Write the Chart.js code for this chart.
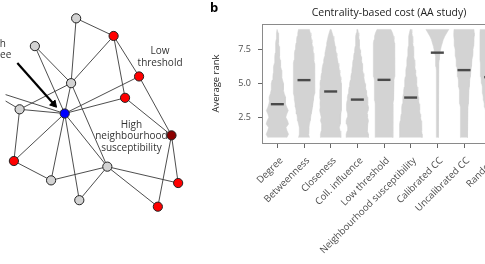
<!DOCTYPE html>
<html><head><meta charset="utf-8">
<script src="https://cdn.jsdelivr.net/npm/chart.js@4.4.1/dist/chart.umd.min.js"></script>
<style>
html,body{margin:0;padding:0;width:485px;height:264px;overflow:hidden;background:#fff;}
#net{position:absolute;left:0;top:0;}
#vio{position:absolute;left:205px;top:0;}
</style></head><body>
<canvas id="net" width="240" height="264"></canvas>
<canvas id="vio" width="310" height="264"></canvas>
<script>
// ---------- Panel b: violin data ----------
const categories = ['Degree','Betweenness','Closeness','Coll. influence','Low threshold','Neighbourhood susceptibility','Calibrated CC','Uncalibrated CC','Random'];
const medianRank = [3.47, 5.25, 4.41, 3.81, 5.27, 3.96, 7.28, 5.99, 5.47];
const rankLevels = [1,1.25,1.5,1.75,2,2.25,2.5,2.75,3,3.25,3.5,3.75,4,4.25,4.5,4.75,5,5.25,5.5,5.75,6,6.25,6.5,6.75,7,7.25,7.5,7.75,8,8.25,8.5,8.75,9];
const widthDegree       = [19,22.5,19.5,17.5,22.5,20.5,17,19,22,19,17,15.5,16.5,14,12.5,12,12.5,10.5,9,8.5,8.5,7,6,5.5,5,4.5,4,3.5,3,2.5,2,1.5,0.5];
const widthBetweenness  = [11,9.5,9,10,11,12.5,13.5,14.5,16,17,18,19,19.5,21,20.5,21,21.5,21.5,22,21,22,21.5,21,20,19.5,19,18,17,16,15,14,12.5,11];
const widthCloseness    = [20,20.5,19,17.5,19,20.5,19,20.5,22,21,21.5,21,22,21.5,22,21,21.5,20.5,19.5,18.5,17.5,16.5,15,14,12.5,11.5,10,9,8,6.5,5,3,1];
const widthCollInfl     = [22,22.5,20.5,19.5,21,22.5,20.5,19.5,21.5,22.5,21,20.5,20,18.5,17.5,16.5,15.5,14,13,12,11,10,9.5,8.5,7.5,6.5,5.5,4.5,4,3.5,3,2,1];
const widthLowThreshold = [18,18,18,17.5,17.5,17.5,17.5,17.5,18,18,18,18.5,18.5,19,19,19.5,20,20,20.5,20.5,21,21,21.5,21.5,22,22,22,21.5,21,20,19,17,14];
const widthNeighSusc    = [23,23,22.5,22,21.5,21,20,19,18.5,17.5,17,16,15.5,14.5,14,13,12.5,11.5,11,10,9.5,8.5,8,7.5,6.5,6,5.5,5,4.5,4,3.5,2.5,1];
const widthCalibrated   = [2,2,2,2,2,2,2,2,2,2,2,2,2,2,2,2,2,2.1,2.2,2.3,2.5,2.7,3,3.5,4.2,5.2,6.5,8,10,12,15,19,23];
const widthUncalibrated = [6.5,6.5,6.5,6.5,7,7,7.5,7.5,8,8,8.5,8.5,9,9.5,10,10.5,11,11.5,12.5,13,14,14.5,15.5,16,17,17.5,18,19,19.5,20,20.5,20.5,20];
const widthRandom       = [8,8,8.5,8.5,9,9.5,10,10.5,11,12,13,14,15,16,16.5,17,18,19,19.5,20,20.5,21,21,21.5,21.5,21.5,21.5,21.5,21.5,21.5,21.5,21.5,21];
const yTicks = [2.5, 5.0, 7.5];
const chartTitle = 'Centrality-based cost (AA study)';
const yTitle = 'Average rank';

// ---------- Panel a: network data ----------
const nodeX = [74,113.3,30.7,68.7,140,125.3,14.7,62,174,8.7,106.7,47.7,181,77.3,159.7,-25];
const nodeY = [13.3,31.7,42.3,81,74,96.3,108.3,112.7,135.5,162.3,168.2,182.5,185.3,203.2,210,85];
const nodeKind = ['neutral','adopter','neutral','neutral','adopter','adopter','neutral','seed','susceptible','adopter','neutral','neutral','adopter','neutral','adopter','neutral'];
const edgeFrom = [0,0,2,2,1,1,1,3,3,3,4,4,5,5,6,6,6,7,7,7,7,7,9,11,13,10,10,8,8];
const edgeTo   = [1,3,3,7,3,4,5,7,6,10,7,8,7,8,7,9,15,15,9,11,13,10,11,10,10,12,14,12,14];
const noteText = ['High','degree','Low','threshold','High','neighbourhood','susceptibility'];
const arrowFrom = [12.3, 60];
const arrowTo = [53.3, 106];

// ---------- styles / layout ----------
const FONT = "'Open Sans', 'Liberation Sans', sans-serif";
Chart.defaults.font.family = FONT;
const kindColor = {neutral:'#d3d3d3', adopter:'#ff0000', seed:'#0000ff', susceptible:'#8b0000'};
const noteX = [-11,-11,162,162,132,132,132];
const noteY = [40,52,48,60,124.5,136.5,148.5];
const PX_PER_CAT = 26.67;

// ---------- network chart ----------
const edgeSets = edgeFrom.map((a,k)=>({
  type:'scatter', showLine:true, order:3,
  data:[{x:nodeX[a],y:nodeY[a]},{x:nodeX[edgeTo[k]],y:nodeY[edgeTo[k]]}],
  borderColor:'#3a3a3a', borderWidth:0.9, pointRadius:0
}));
const dx = arrowTo[0]-arrowFrom[0], dy = arrowTo[1]-arrowFrom[1];
const dl = Math.hypot(dx,dy), headR = 4.2;
const headC = {x: arrowTo[0]-dx/dl*headR, y: arrowTo[1]-dy/dl*headR};
const headRot = Math.atan2(dx, -dy)*180/Math.PI;
const netNotes = {
  id:'netNotes',
  afterDatasetsDraw(chart){
    const {ctx, scales:{x,y}} = chart;
    ctx.save();
    ctx.fillStyle='#333'; ctx.font='10px '+FONT; ctx.textAlign='center'; ctx.textBaseline='middle';
    noteText.forEach((t,i)=>ctx.fillText(t, x.getPixelForValue(noteX[i]), y.getPixelForValue(noteY[i])));
    ctx.fillStyle='#000'; ctx.font='bold 13px '+FONT; ctx.textAlign='left'; ctx.textBaseline='alphabetic';
    ctx.fillText('b', 210, 12);
    ctx.restore();
  }
};
new Chart(document.getElementById('net'), {
  type:'scatter',
  data:{datasets:[
    {data:nodeX.map((v,i)=>({x:v,y:nodeY[i]})), order:0,
     pointRadius:4.6, pointBorderWidth:1, pointBorderColor:'#222',
     pointBackgroundColor:nodeKind.map(k=>kindColor[k])},
    {type:'scatter', showLine:true, order:1, data:[{x:arrowFrom[0],y:arrowFrom[1]},headC],
     borderColor:'#000', borderWidth:2.2, pointRadius:0},
    {type:'scatter', order:1, data:[headC], pointStyle:'triangle', pointRadius:headR, rotation:headRot,
     pointBackgroundColor:'#000', pointBorderColor:'#000', pointBorderWidth:1},
    ...edgeSets
  ]},
  options:{responsive:false, animation:false, events:[],
    layout:{padding:0},
    scales:{x:{display:false,min:0,max:240}, y:{display:false,min:0,max:264,reverse:true}},
    plugins:{legend:{display:false}, tooltip:{enabled:false}}},
  plugins:[netNotes]
});

// ---------- violin chart ----------
const violinWidths = [widthDegree,widthBetweenness,widthCloseness,widthCollInfl,widthLowThreshold,widthNeighSusc,widthCalibrated,widthUncalibrated,widthRandom];
function outline(i, w){
  const left = rankLevels.map((r,k)=>({x:i - w[k]/2/PX_PER_CAT, y:r}));
  const right = rankLevels.map((r,k)=>({x:i + w[k]/2/PX_PER_CAT, y:r})).reverse();
  return left.concat(right);
}
const violinSets = categories.map((c,i)=>({
  type:'scatter', label:c, showLine:true, fill:'shape', order:2,
  data: outline(i, violinWidths[i]),
  backgroundColor:'#d3d3d3', borderColor:'#d3d3d3', borderWidth:0.5, pointRadius:0
}));
const frameTitle = {
  id:'frameTitle',
  afterDraw(chart){
    const {ctx, chartArea:a} = chart;
    ctx.save();
    ctx.strokeStyle='#8a8a8a'; ctx.lineWidth=1;
    ctx.beginPath(); ctx.moveTo(a.left, a.top+0.5); ctx.lineTo(a.right, a.top+0.5); ctx.lineTo(a.right, a.bottom); ctx.stroke();
    ctx.fillStyle='#222'; ctx.font='10.5px '+FONT; ctx.textAlign='center'; ctx.textBaseline='middle';
    ctx.fillText(chartTitle, 184, 13.5);
    ctx.restore();
  }
};
new Chart(document.getElementById('vio'), {
  type:'scatter',
  data:{datasets:[
    {label:'median', data:medianRank.map((m,i)=>({x:i,y:m})), order:0,
     pointStyle:'line', pointRadius:6.5, pointBorderWidth:2.4, pointBorderColor:'#4a4a4a'},
    ...violinSets
  ]},
  options:{responsive:false, animation:false, events:[],
    layout:{padding:{top:24,right:9,bottom:0,left:0}},
    scales:{
      x:{type:'linear', min:-0.575, max:8.575,
        afterBuildTicks:s=>{ s.ticks = categories.map((_,i)=>({value:i})); },
        ticks:{autoSkip:false, minRotation:45, maxRotation:45, callback:v=>categories[v],
               font:{size:9.6}, color:'#4d4d4d', padding:7, labelOffset:4},
        grid:{display:true, drawOnChartArea:false, drawTicks:true, tickLength:5, color:'#666'},
        border:{display:true, color:'#8a8a8a'},
        afterFit:s=>{ s.height = 121; s.paddingLeft = 0; s.paddingRight = 0; }
      },
      y:{type:'linear', min:0.6, max:9.4,
        afterBuildTicks:s=>{ s.ticks = yTicks.map(v=>({value:v})); },
        ticks:{callback:v=>v.toFixed(1), font:{size:9}, color:'#4d4d4d', padding:7},
        grid:{display:true, drawOnChartArea:false, drawTicks:true, tickLength:4, color:'#666'},
        border:{display:true, color:'#8a8a8a'},
        title:{display:true, text:yTitle, font:{size:9.5}, color:'#222', padding:{top:6,bottom:0}},
        afterFit:s=>{ s.width = 57; }
      }
    },
    plugins:{legend:{display:false}, tooltip:{enabled:false}}},
  plugins:[frameTitle]
});
</script>
</body></html>
